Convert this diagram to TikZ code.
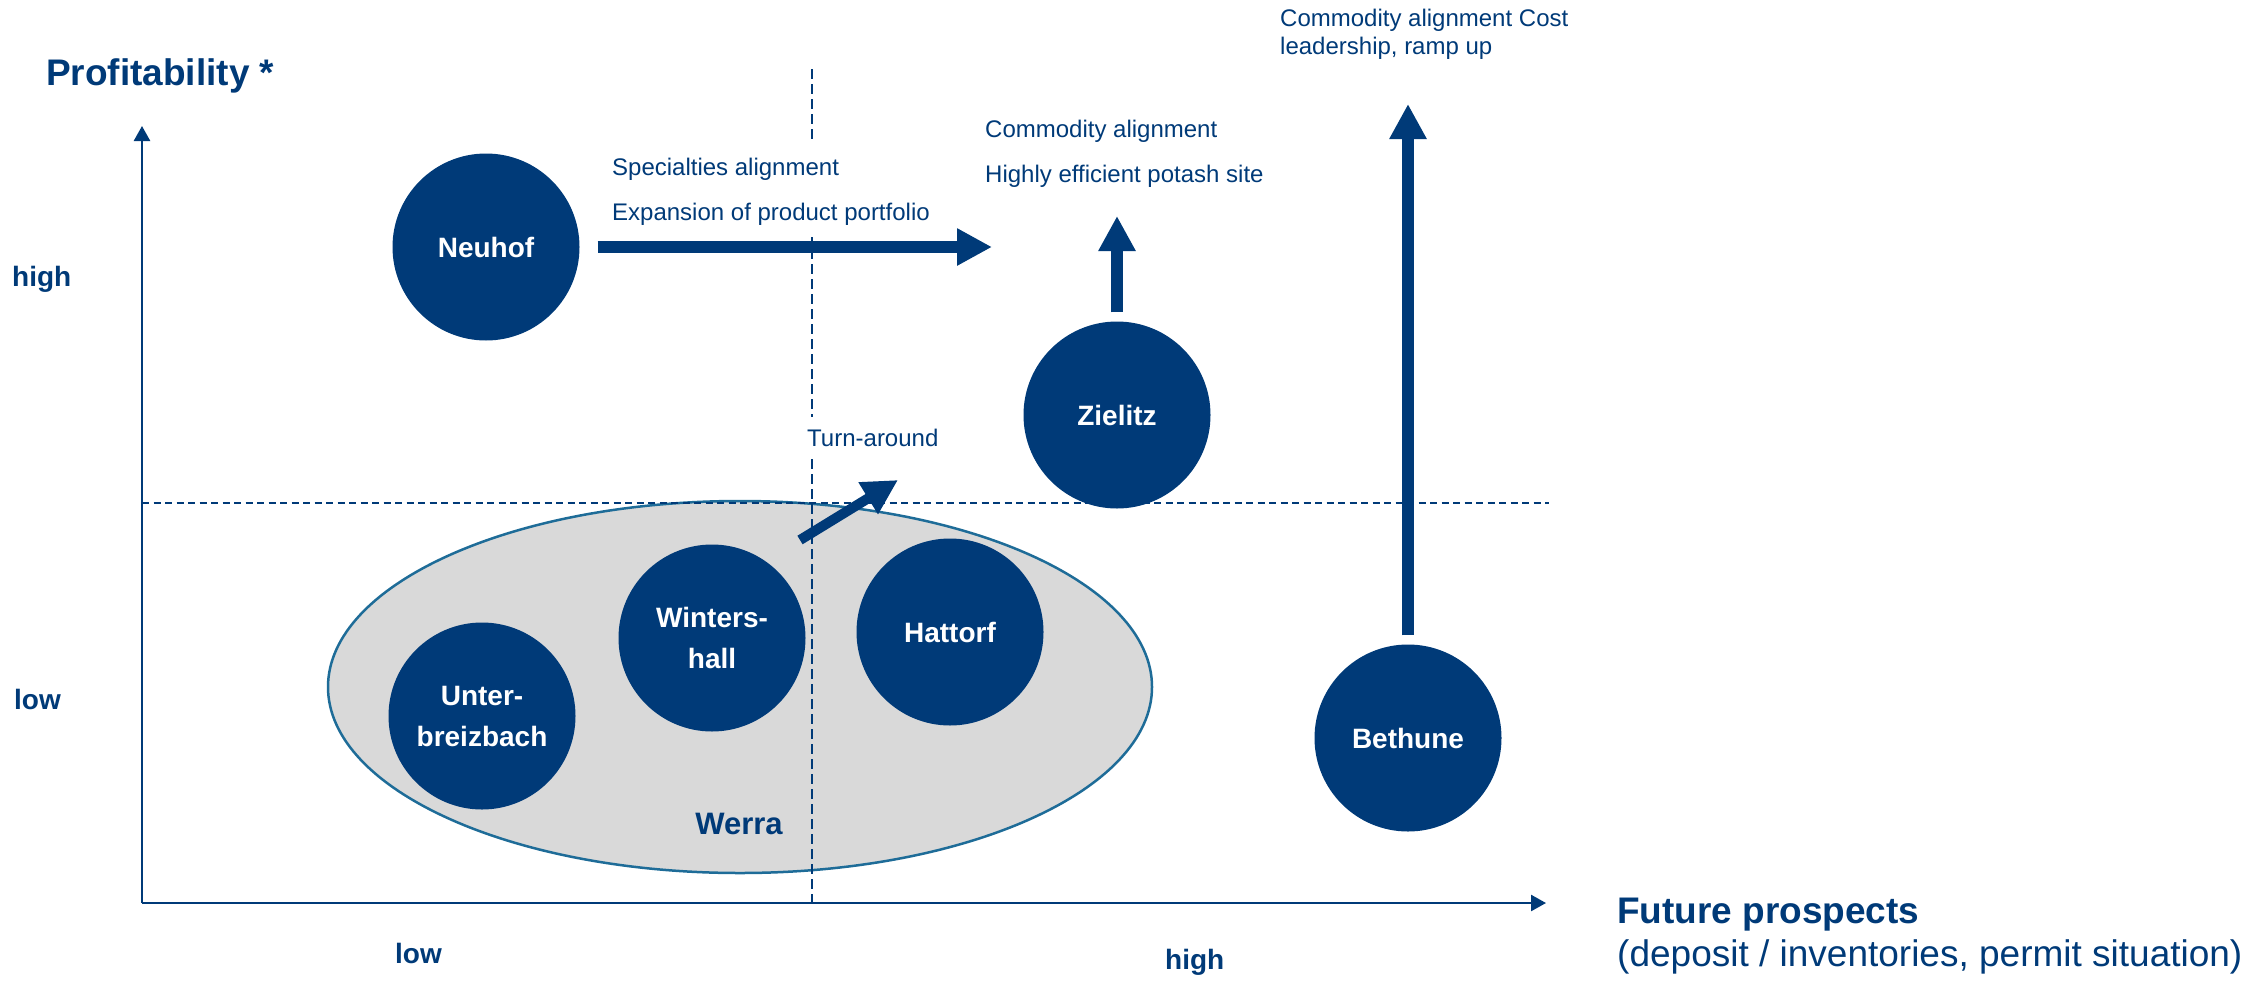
\documentclass[tikz,border=0pt]{standalone}
\usepackage{fontspec}
\setmainfont{Liberation Sans}
\usetikzlibrary{arrows.meta,shapes.geometric}
\definecolor{kblue}{RGB}{0,58,120}
\definecolor{kgray}{RGB}{217,217,217}
\definecolor{kedge}{RGB}{30,108,152}
\begin{document}
\begin{tikzpicture}[x=1pt,y=-1pt,
  site/.style={circle,fill=kblue,minimum size=187pt,inner sep=0pt,text=white,
    font=\fontsize{28}{41}\selectfont\bfseries,align=center},
  lbl/.style={text=kblue,font=\fontsize{24}{30}\selectfont,inner sep=0pt,anchor=base west},
  masked/.style={fill=white,inner ysep=10pt},
  axlbl/.style={text=kblue,font=\fontsize{28}{32}\selectfont\bfseries,inner sep=0pt,anchor=base west},
  titlelbl/.style={text=kblue,font=\fontsize{37}{40}\selectfont\bfseries,inner sep=0pt,anchor=base west},
  bigarrow/.style={draw=kblue,line width=12pt,-{Triangle[width=35pt,length=35pt]}},
  axisline/.style={draw=kblue,line width=2.5pt,-{Triangle[width=16pt,length=15pt]}},
  hguide/.style={draw=kblue,line width=1.8pt,dash pattern=on 7pt off 4.5pt},
  vguide/.style={draw=kblue,line width=1.8pt,dash pattern=on 10pt off 5pt},
]
\useasboundingbox (0,0) rectangle (2266,980);

% Werra group ellipse
\node[ellipse,draw=kedge,line width=2.5pt,fill=kgray,minimum width=824pt,
  minimum height=372pt,inner sep=0pt] (werra) at (740,687) {};
\node[text=kblue,font=\fontsize{31}{34}\selectfont\bfseries,inner sep=0pt,anchor=base]
  (werralbl) at (739,834) {Werra};

% guide lines
\coordinate (hl) at (142,503);
\coordinate (hr) at (1549,503);
\coordinate (vt) at (812,69);
\coordinate (vb) at (812,903);
\draw[hguide] (hl) -- (hr);
\draw[vguide] (vt) -- (vb);

% axes
\coordinate (org) at (142,903);
\coordinate (ytop) at (142,126);
\coordinate (xend) at (1546,903);
\draw[axisline] (org) -- (ytop);
\draw[axisline] (org) -- (xend);

% axis labels
\node[titlelbl] (ytitle) at (46,85) {Profitability *};
\node[axlbl] (yhigh) at (12,286) {high};
\node[axlbl] (ylow) at (14,709) {low};
\node[axlbl] (xlow) at (395,963) {low};
\node[axlbl] (xhigh) at (1165,969) {high};
\node[titlelbl] (xtitle) at (1617,923) {Future prospects};
\node[text=kblue,font=\fontsize{37}{40}\selectfont,inner sep=0pt,anchor=base west]
  (xsub) at (1617,966) {(deposit / inventories, permit situation)};

% annotations (white backing hides the dashed guide line)
\node[lbl,masked,inner ysep=14pt] (spec) at (612,175) {Specialties alignment};
\node[lbl,masked,inner ysep=12pt] (expa) at (612,220) {Expansion of product portfolio};
\node[lbl] (comm) at (985,137) {Commodity alignment};
\node[lbl] (effi) at (985,182) {Highly efficient potash site};
\node[lbl,masked,inner ysep=12pt] (turn) at (807,446) {Turn-around};
\node[lbl] (cost1) at (1280,26) {Commodity alignment Cost};
\node[lbl] (cost2) at (1280,54) {leadership, ramp up};

% sites
\node[site] (neuhof) at (486,247) {Neuhof};
\node[site] (zielitz) at (1117,415) {Zielitz};
\node[site] (unter) at (482,716) {Unter-\\breizbach};
\node[site] (winter) at (712,638) {Winters-\\hall};
\node[site] (hattorf) at (950,632) {Hattorf};
\node[site] (bethune) at (1408,738) {Bethune};

% arrows
\coordinate (neuhofend) at (992,247);
\draw[bigarrow] ([xshift=18pt]neuhof.east) -- (neuhofend);
\coordinate (zielitzend) at (1117,216);
\draw[bigarrow] ([yshift=9pt]zielitz.north) -- (zielitzend);
\coordinate (bethuneend) at (1408,104);
\draw[bigarrow] ([yshift=9pt]bethune.north) -- (bethuneend);
\coordinate (turnstart) at (800,540);
\coordinate (turnend) at (898,480);
\draw[bigarrow,line width=10pt] (turnstart) -- (turnend);
\end{tikzpicture}
\end{document}
